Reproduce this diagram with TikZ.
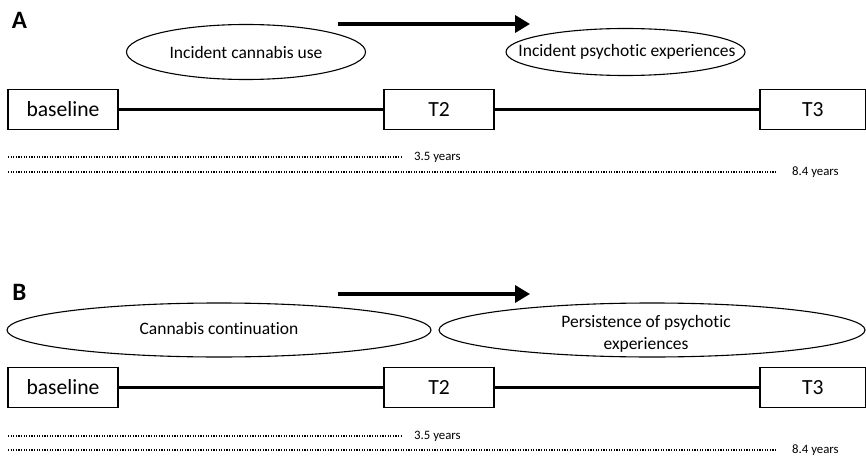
\documentclass[tikz,border=0pt]{standalone}
\usepackage{fontspec}
\setmainfont[Ligatures=NoCommon]{Carlito}
\usetikzlibrary{shapes.geometric,arrows.meta}
\begin{document}
\begin{tikzpicture}[x=1pt,y=-1pt,
  tbox/.style={draw, line width=1.1pt, minimum width=110pt, minimum height=40pt, inner sep=0pt, font=\fontsize{21.6}{26}\selectfont},
  oval/.style={draw, ellipse, line width=1.1pt, inner sep=0pt},
  otext/.style={font=\fontsize{17.5}{22}\selectfont, align=center, inner sep=0pt},
  tline/.style={line width=2.9pt},
  dots/.style={line width=1.1pt, dash pattern=on 1.1pt off 1.5pt},
  yrs/.style={inner sep=0pt, anchor=west, font=\fontsize{12.8}{15}\selectfont},
  bigarrow/.style={line width=3.5pt, -{Triangle[length=15pt,width=17pt]}},
  panel/.style={font=\fontsize{25}{30}\selectfont\bfseries, inner sep=0pt}
]
\useasboundingbox (0,0) rectangle (866,457);

% ---------- Panel A ----------
\node[panel] (A) at (19.5,20.5) {A};
\coordinate (a1s) at (338,24);
\coordinate (a1e) at (530,24);
\draw[bigarrow] (a1s) -- (a1e);

\node[oval, minimum width=239pt, minimum height=55pt,
  label={[otext]center:Incident cannabis use}] (ea1) at (246,52) {};
\node[oval, minimum width=239pt, minimum height=47pt,
  label={[otext, xshift=1.5pt]center:Incident psychotic experiences}] (ea2) at (625.5,52) {};

\node[tbox] (b1) at (63,109.5) {baseline};
\node[tbox] (t2a) at (439,109.5) {T2};
\node[tbox, minimum width=105.5pt] (t3a) at (812.75,109.5) {T3};
\draw[tline] (b1) -- (t2a);
\draw[tline] (t2a) -- (t3a);

\coordinate (da1) at (8,157);
\node[yrs] (ya1) at (414,157) {3.5 years};
\draw[dots, shorten >=11pt] (da1) -- (ya1.west);
\coordinate (da2) at (8,172);
\node[yrs] (ya2) at (792,172) {8.4 years};
\draw[dots, shorten >=16pt] (da2) -- (ya2.west);

% ---------- Panel B ----------
\node[panel] (B) at (19.5,292.5) {B};
\coordinate (b1s) at (338,294);
\coordinate (b1e) at (530,294);
\draw[bigarrow] (b1s) -- (b1e);

\node[oval, minimum width=424pt, minimum height=54pt,
  label={[otext, yshift=2pt]center:Cannabis continuation}] (eb1) at (219,330) {};
\node[oval, minimum width=426pt, minimum height=54pt,
  label={[otext, xshift=-6pt, yshift=-4pt]center:Persistence of psychotic\\experiences}] (eb2) at (652,330) {};

\node[tbox] (b2) at (63,387.5) {baseline};
\node[tbox] (t2b) at (439,387.5) {T2};
\node[tbox, minimum width=105.5pt] (t3b) at (812.75,387.5) {T3};
\draw[tline] (b2) -- (t2b);
\draw[tline] (t2b) -- (t3b);

\coordinate (db1) at (8,436);
\node[yrs] (yb1) at (414,436) {3.5 years};
\draw[dots, shorten >=11pt] (db1) -- (yb1.west);
\coordinate (db2) at (8,450);
\node[yrs] (yb2) at (792,450) {8.4 years};
\draw[dots, shorten >=16pt] (db2) -- (yb2.west);
\end{tikzpicture}
\end{document}
